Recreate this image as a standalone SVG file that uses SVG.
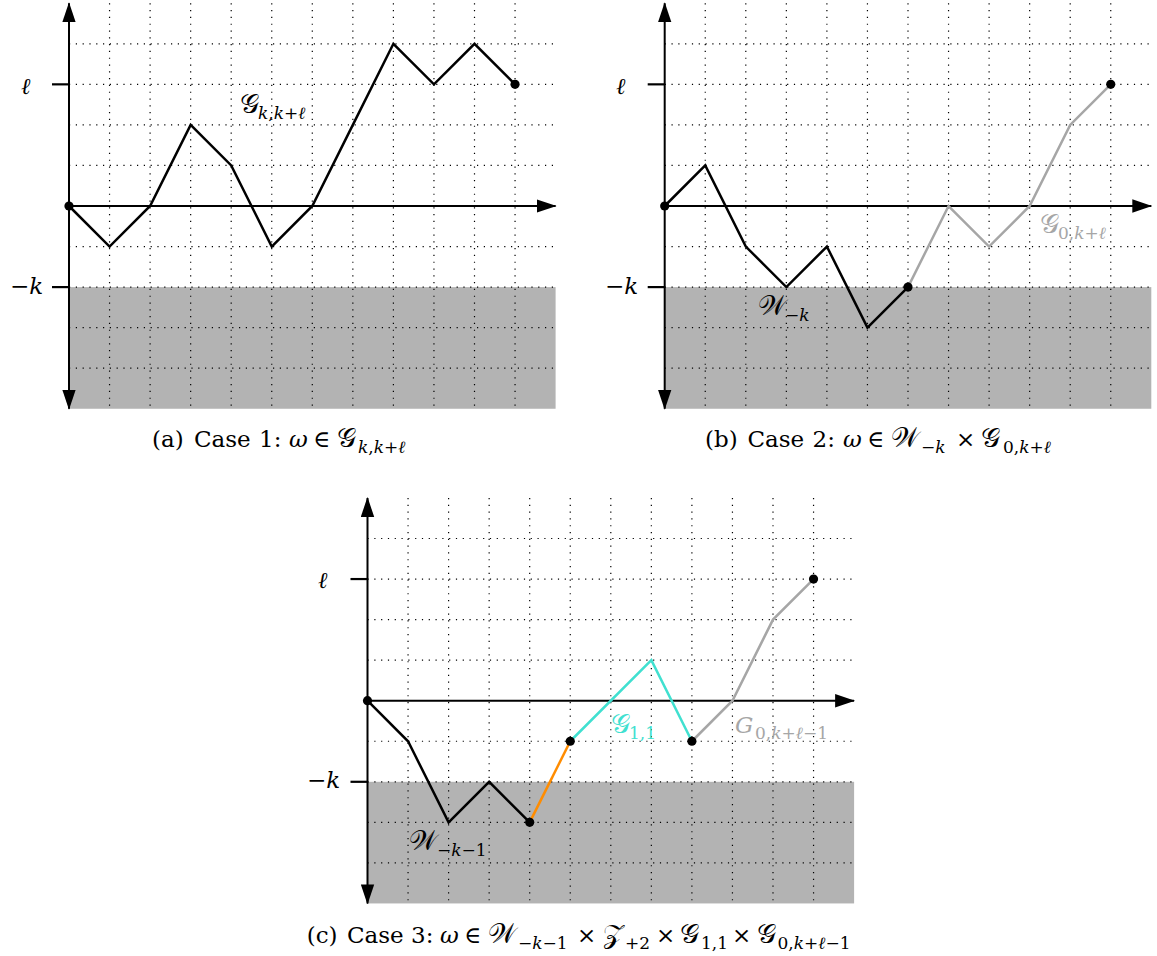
<svg xmlns="http://www.w3.org/2000/svg" xmlns:xlink="http://www.w3.org/1999/xlink" width="1157" height="956" viewBox="0 0 1157 956" font-family="'DejaVu Serif',serif">
<style>
.shade{fill:#b3b3b3}
.grid{fill:none;stroke:#000;stroke-width:1.2;stroke-dasharray:1.2 5.6}
.axis{fill:none;stroke:#000;stroke-width:2}
.tick{stroke:#000;stroke-width:2.2}
.p{fill:none;stroke-width:2.5;stroke-linejoin:miter}
.blk{stroke:#000}
.gry{stroke:#a6a6a6}
.cyn{stroke:#40e0d0}
.org{stroke:#ff8c00}
.dot{fill:#000}
text{font-family:'DejaVu Serif',serif;fill:#000}
.lbl{font-size:23px}
.sub{font-size:17px}
.it{font-style:italic}
.cap{font-size:23px}
.cal{font-size:27px}
.tg{fill:#a6a6a6}
.tc{fill:#40e0d0}
</style>
<defs>
<marker id="arr" markerUnits="userSpaceOnUse" markerWidth="20" markerHeight="14" viewBox="0 -7 20 14" refX="19" refY="0" orient="auto-start-reverse">
<path d="M0,-6.7 L20,0 L0,6.7 Z" fill="#000"/>
</marker>
<g id="frame">
<rect class="shade" x="0" y="81.1" width="486.6" height="121.65"/>
<path class="grid" d="M40.55,-202.75V202.75M81.1,-202.75V202.75M121.65,-202.75V202.75M162.2,-202.75V202.75M202.75,-202.75V202.75M243.3,-202.75V202.75M283.85,-202.75V202.75M324.4,-202.75V202.75M364.95,-202.75V202.75M405.5,-202.75V202.75M446.05,-202.75V202.75M0,-162.2H486.6M0,-121.65H486.6M0,-81.1H486.6M0,-40.55H486.6M0,40.55H486.6M0,81.1H486.6M0,121.65H486.6M0,162.2H486.6"/>
<line class="axis" x1="0" y1="202.75" x2="0" y2="-202.75" marker-start="url(#arr)" marker-end="url(#arr)"/>
<line class="axis" x1="0" y1="0" x2="486.6" y2="0" marker-end="url(#arr)"/>
<line class="tick" x1="-17" y1="-121.65" x2="0" y2="-121.65"/>
<line class="tick" x1="-17" y1="81.1" x2="0" y2="81.1"/>
</g>
</defs>

<g id="panel-a">
<g transform="translate(69,206)">
<use xlink:href="#frame"/>
<g id="paths-a">
<polyline class="p blk" points="0,0 40.55,40.55 81.1,0 121.65,-81.1 162.2,-40.55 202.75,40.55 243.3,0 283.85,-81.1 324.4,-162.2 364.95,-121.65 405.5,-162.2 446.05,-121.65"/>
</g>
<circle class="dot" cx="0" cy="0" r="4.6"/>
<circle class="dot" cx="446.05" cy="-121.65" r="4.6"/>
</g>
<text class="lbl it" x="21" y="94">ℓ</text>
<text class="lbl" x="10" y="294">−<tspan class="it">k</tspan></text>
<text class="lbl" x="240" y="113"><tspan class="cal">𝒢</tspan><tspan class="sub" x="258" y="119"><tspan class="it">k</tspan>,<tspan class="it">k</tspan>+<tspan class="it">ℓ</tspan></tspan></text>
<text class="cap" y="447"><tspan x="152">(a)</tspan><tspan x="194">Case</tspan><tspan x="259">1:</tspan><tspan x="289" class="it">ω</tspan><tspan x="313">∈</tspan><tspan x="337" class="cal">𝒢</tspan><tspan class="sub" x="358" y="453"><tspan class="it">k</tspan>,<tspan class="it">k</tspan>+<tspan class="it">ℓ</tspan></tspan></text>
</g>

<g id="panel-b">
<g transform="translate(664.7,206)">
<use xlink:href="#frame"/>
<g id="paths-b">
<polyline class="p blk" points="0,0 40.55,-40.55 81.1,40.55 121.65,81.1 162.2,40.55 202.75,121.65 243.3,81.1"/>
<polyline class="p gry" points="243.3,81.1 283.85,0 324.4,40.55 364.95,0 405.5,-81.1 446.05,-121.65"/>
</g>
<circle class="dot" cx="0" cy="0" r="4.6"/>
<circle class="dot" cx="243.3" cy="81.1" r="4.6"/>
<circle class="dot" cx="446.05" cy="-121.65" r="4.6"/>
</g>
<text class="lbl it" x="616" y="94">ℓ</text>
<text class="lbl" x="605" y="294">−<tspan class="it">k</tspan></text>
<text class="lbl" x="758" y="315"><tspan class="cal">𝒲</tspan><tspan class="sub" x="785" y="321">−<tspan class="it">k</tspan></tspan></text>
<text class="lbl tg" x="1040" y="233"><tspan class="cal">𝒢</tspan><tspan class="sub" x="1058" y="239">0,<tspan class="it">k</tspan>+<tspan class="it">ℓ</tspan></tspan></text>
<text class="cap" y="447"><tspan x="705">(b)</tspan><tspan x="747.5">Case</tspan><tspan x="812.5">2:</tspan><tspan x="843" class="it">ω</tspan><tspan x="867">∈</tspan><tspan x="891" class="cal">𝒲</tspan><tspan class="sub" x="921" y="453">−<tspan class="it">k</tspan></tspan><tspan x="956" y="447">×</tspan><tspan x="981" class="cal">𝒢</tspan><tspan class="sub" x="1003" y="453">0,<tspan class="it">k</tspan>+<tspan class="it">ℓ</tspan></tspan></text>
</g>

<g id="panel-c">
<g transform="translate(367.5,700.7)">
<use xlink:href="#frame"/>
<g id="paths-c">
<polyline class="p blk" points="0,0 40.55,40.55 81.1,121.65 121.65,81.1 162.2,121.65"/>
<polyline class="p org" points="162.2,121.65 202.75,40.55"/>
<polyline class="p cyn" points="202.75,40.55 283.85,-40.55 324.4,40.55"/>
<polyline class="p gry" points="324.4,40.55 364.95,0 405.5,-81.1 446.05,-121.65"/>
</g>
<circle class="dot" cx="0" cy="0" r="4.6"/>
<circle class="dot" cx="162.2" cy="121.65" r="4.6"/>
<circle class="dot" cx="202.75" cy="40.55" r="4.6"/>
<circle class="dot" cx="324.4" cy="40.55" r="4.6"/>
<circle class="dot" cx="446.05" cy="-121.65" r="4.6"/>
</g>
<text class="lbl it" x="318" y="588">ℓ</text>
<text class="lbl" x="307" y="788">−<tspan class="it">k</tspan></text>
<text class="lbl" x="409" y="850"><tspan class="cal">𝒲</tspan><tspan class="sub" x="437" y="856">−<tspan class="it">k</tspan>−1</tspan></text>
<text class="lbl tc" x="611" y="733"><tspan class="cal">𝒢</tspan><tspan class="sub" x="629" y="739">1,1</tspan></text>
<text class="lbl tg" x="735" y="733"><tspan class="it">G</tspan><tspan class="sub" x="755" y="739">0,<tspan class="it">k</tspan>+<tspan class="it">ℓ</tspan>−1</tspan></text>
<text class="cap" y="942.5"><tspan x="306.7">(c)</tspan><tspan x="347">Case</tspan><tspan x="411">3:</tspan><tspan x="440" class="it">ω</tspan><tspan x="464">∈</tspan><tspan x="488" class="cal">𝒲</tspan><tspan class="sub" x="518" y="948.5">−<tspan class="it">k</tspan>−1</tspan><tspan x="577" y="942.5">×</tspan><tspan x="603" class="cal">𝒵</tspan><tspan class="sub" x="625" y="948.5">+2</tspan><tspan x="656" y="942.5">×</tspan><tspan x="679.5" class="cal">𝒢</tspan><tspan class="sub" x="701" y="948.5">1,1</tspan><tspan x="732" y="942.5">×</tspan><tspan x="756.5" class="cal">𝒢</tspan><tspan class="sub" x="777.5" y="948.5">0,<tspan class="it">k</tspan>+<tspan class="it">ℓ</tspan>−1</tspan></text>
</g>
</svg>
